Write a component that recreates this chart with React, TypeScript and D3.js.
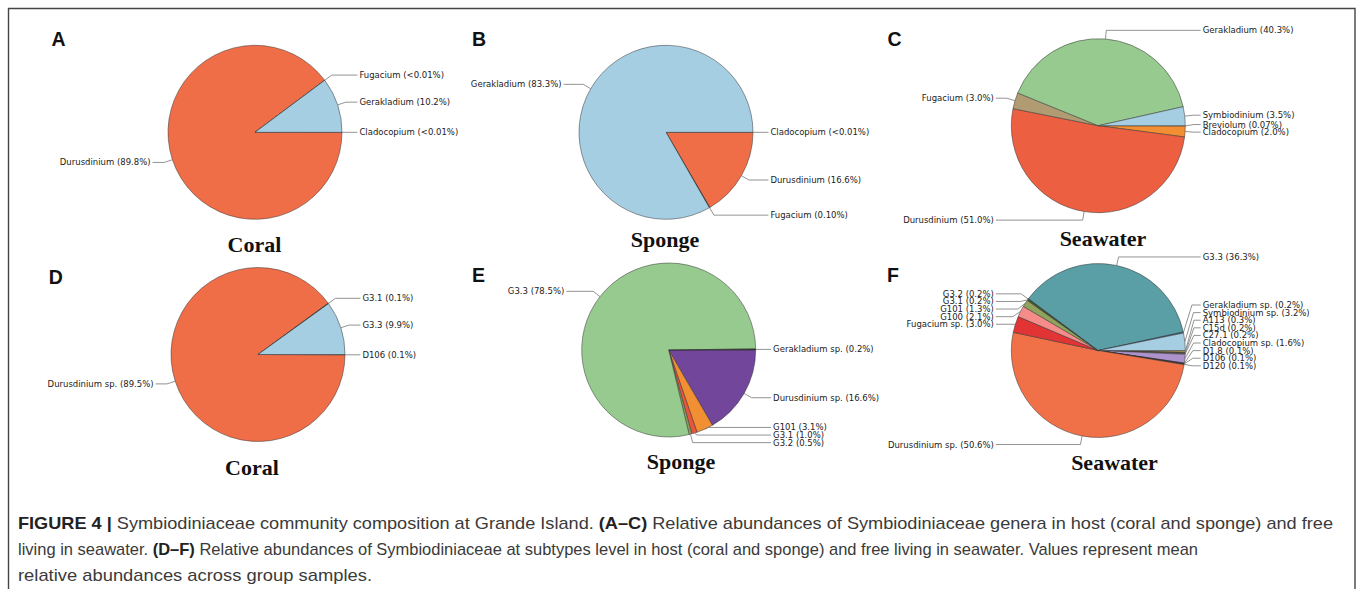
import React from 'react';
import * as d3 from 'd3';

// panel A - genera, coral
const coralGenera = ['Cladocopium', 'Durusdinium', 'Fugacium', 'Gerakladium'];
const coralGeneraValues = [0.005, 89.8, 0.005, 10.2];
const coralGeneraPct = ['<0.01', '89.8', '<0.01', '10.2'];
const coralGeneraColors = ['#2f4f6f', '#ef6e48', '#3a3a3a', '#a6cee3'];

// panel B - genera, sponge
const spongeGenera = ['Cladocopium', 'Durusdinium', 'Fugacium', 'Gerakladium'];
const spongeGeneraValues = [0.005, 16.6, 0.1, 83.3];
const spongeGeneraPct = ['<0.01', '16.6', '0.10', '83.3'];
const spongeGeneraColors = ['#2f4f6f', '#ef6e48', '#222222', '#a6cee3'];

// panel C - genera, seawater
const seawaterGenera = ['Breviolum', 'Cladocopium', 'Durusdinium', 'Fugacium', 'Gerakladium', 'Symbiodinium'];
const seawaterGeneraValues = [0.07, 2.0, 51.0, 3.0, 40.3, 3.5];
const seawaterGeneraPct = ['0.07', '2.0', '51.0', '3.0', '40.3', '3.5'];
const seawaterGeneraColors = ['#1f78b4', '#f28f33', '#ec5f40', '#b19b72', '#97ca8f', '#a6cee3'];

// panel D - subtypes, coral
const coralTypes = ['D106', 'Durusdinium sp.', 'G3.1', 'G3.3'];
const coralTypesValues = [0.1, 89.5, 0.1, 9.9];
const coralTypesPct = ['0.1', '89.5', '0.1', '9.9'];
const coralTypesColors = ['#4a4a4a', '#ef6e48', '#2d5a27', '#a6cee3'];

// panel E - subtypes, sponge
const spongeTypes = ['Durusdinium sp.', 'G101', 'G3.1', 'G3.2', 'G3.3', 'Gerakladium sp.'];
const spongeTypesValues = [16.6, 3.1, 1.0, 0.5, 78.5, 0.2];
const spongeTypesPct = ['16.6', '3.1', '1.0', '0.5', '78.5', '0.2'];
const spongeTypesColors = ['#71469b', '#f28f33', '#e8553b', '#8c9f5c', '#97ca8f', '#2b3b2b'];

// panel F - subtypes, seawater
const seawaterTypes = [
  'A113', 'C15d', 'C27.1', 'Cladocopium sp.', 'D1.8', 'D106', 'D120', 'Durusdinium sp.',
  'Fugacium sp.', 'G100', 'G101', 'G3.1', 'G3.2', 'G3.3', 'Gerakladium sp.', 'Symbiodinium sp.'
];
const seawaterTypesValues = [0.3, 0.2, 0.2, 1.6, 0.1, 0.1, 0.1, 50.6, 3.0, 2.1, 1.3, 0.2, 0.2, 36.3, 0.2, 3.2];
const seawaterTypesPct = ['0.3', '0.2', '0.2', '1.6', '0.1', '0.1', '0.1', '50.6', '3.0', '2.1', '1.3', '0.2', '0.2', '36.3', '0.2', '3.2'];
const seawaterTypesColors = [
  '#e2b85c', '#555555', '#8a6d3b', '#ad92cc', '#6a3d9a', '#333333', '#b15928', '#f07148',
  '#e33435', '#f58c8a', '#8fa35d', '#4d6b2a', '#33552a', '#5a9fa5', '#2b5f86', '#a6cee3'
];

const captionLines = [
  'living in seawater. ',
  'relative abundances across group samples.'
];

const R = 87;

const panels = [
  { letter: 'A', title: 'Coral', names: coralGenera, values: coralGeneraValues, pct: coralGeneraPct, colors: coralGeneraColors,
    cx: 255, cy: 132.3, lx: 51.5, ly: 46, tx: 254.5, ty: 252 },
  { letter: 'B', title: 'Sponge', names: spongeGenera, values: spongeGeneraValues, pct: spongeGeneraPct, colors: spongeGeneraColors,
    cx: 666, cy: 132.3, lx: 472, ly: 46, tx: 665, ty: 247 },
  { letter: 'C', title: 'Seawater', names: seawaterGenera, values: seawaterGeneraValues, pct: seawaterGeneraPct, colors: seawaterGeneraColors,
    cx: 1098.3, cy: 125.7, lx: 887.5, ly: 46, tx: 1103, ty: 246 },
  { letter: 'D', title: 'Coral', names: coralTypes, values: coralTypesValues, pct: coralTypesPct, colors: coralTypesColors,
    cx: 258, cy: 354.5, lx: 48.7, ly: 283.5, tx: 252, ty: 474.5 },
  { letter: 'E', title: 'Sponge', names: spongeTypes, values: spongeTypesValues, pct: spongeTypesPct, colors: spongeTypesColors,
    cx: 668.7, cy: 350, lx: 472, ly: 282, tx: 681, ty: 468.5 },
  { letter: 'F', title: 'Seawater', names: seawaterTypes, values: seawaterTypesValues, pct: seawaterTypesPct, colors: seawaterTypesColors,
    cx: 1098.3, cy: 350.5, lx: 887, ly: 282, tx: 1114.5, ty: 470 },
];

// wedges go clockwise from 3 o'clock, like the original
const pie = d3.pie<number>().sort(null).startAngle(Math.PI / 2).endAngle(Math.PI / 2 + 2 * Math.PI);
const arc = d3.arc<d3.PieArcDatum<number>>().innerRadius(0).outerRadius(R);

function placeLabels(arcs: d3.PieArcDatum<number>[], cy: number) {
  const gap = 7.6;
  const items = arcs.map((a, i) => {
    const mid = (a.startAngle + a.endAngle) / 2;
    const sx = Math.sin(mid);
    const sy = -Math.cos(mid);
    return { i, sx, sy, side: sx >= 0 ? 1 : -1, y: cy + 1.1 * R * sy };
  });
  // right side labels get pushed up, left side labels pushed down
  const right = items.filter(d => d.side > 0).sort((a, b) => a.y - b.y);
  for (let k = right.length - 2; k >= 0; k--) right[k].y = Math.min(right[k].y, right[k + 1].y - gap);
  const left = items.filter(d => d.side < 0).sort((a, b) => a.y - b.y);
  for (let k = 1; k < left.length; k++) left[k].y = Math.max(left[k].y, left[k - 1].y + gap);
  return items;
}

function PiePanel({ p }: { p: typeof panels[number] }) {
  const arcs = pie(p.values);
  const labels = placeLabels(arcs, p.cy);
  return (
    <g>
      <text x={p.lx} y={p.ly} fontFamily="'Liberation Sans', Arial, sans-serif" fontWeight="bold" fontSize={19.5} fill="#111">
        {p.letter}
      </text>
      <g transform={`translate(${p.cx},${p.cy})`}>
        {arcs.map((a, i) => (
          <path key={i} d={arc(a) || ''} fill={p.colors[i]} stroke="#333" strokeWidth={0.5} strokeLinejoin="round" />
        ))}
      </g>
      {labels.map(l => {
        const ex = p.cx + R * l.sx, ey = p.cy + R * l.sy;
        const kx = p.cx + 1.1 * R * l.sx;
        const endX = p.cx + l.side * (1.2 * R - 2);
        const textX = p.cx + l.side * 1.2 * R;
        return (
          <g key={l.i}>
            <polyline points={`${ex},${ey} ${kx},${l.y} ${endX},${l.y}`} fill="none" stroke="#777" strokeWidth={0.8} />
            <text x={textX} y={l.y} dominantBaseline="central" textAnchor={l.side > 0 ? 'start' : 'end'}
              fontFamily="'DejaVu Sans', sans-serif" fontSize={8.5} fill="#222">
              {`${p.names[l.i]} (${p.pct[l.i]}%)`}
            </text>
          </g>
        );
      })}
      <text x={p.tx} y={p.ty} textAnchor="middle" fontFamily="'Liberation Serif', 'Times New Roman', serif"
        fontWeight="bold" fontSize={22} fill="#111">
        {p.title}
      </text>
    </g>
  );
}

export default function App() {
  const W = 1358, H = 589;
  const capFont = "'Liberation Sans Narrow', 'Liberation Sans', Arial, sans-serif";
  return (
    <svg width={W} height={H} style={{ position: 'absolute', left: 0, top: 0, background: '#fff' }}>
      <path d={`M8.5,${H} V8.5 H1355 V${H}`} fill="none" stroke="#444" strokeWidth={1.4} />
      {panels.map(p => <PiePanel key={p.letter} p={p} />)}
      <g fontFamily={capFont} fontSize={17} fill="#3a3a3a">
        <text x={18} y={529} textLength={1315} lengthAdjust="spacingAndGlyphs">
          <tspan fontWeight="bold" fill="#222">FIGURE 4 | </tspan>
          <tspan>Symbiodiniaceae community composition at Grande Island. </tspan>
          <tspan fontWeight="bold" fill="#222">(A–C) </tspan>
          <tspan>Relative abundances of Symbiodiniaceae genera in host (coral and sponge) and free</tspan>
        </text>
        <text x={18} y={555} textLength={1180} lengthAdjust="spacingAndGlyphs">
          <tspan>{captionLines[0]}</tspan>
          <tspan fontWeight="bold" fill="#222">(D–F) </tspan>
          <tspan>Relative abundances of Symbiodiniaceae at subtypes level in host (coral and sponge) and free living in seawater. Values represent mean</tspan>
        </text>
        <text x={18} y={581} textLength={354} lengthAdjust="spacingAndGlyphs">
          {captionLines[1]}
        </text>
      </g>
    </svg>
  );
}
